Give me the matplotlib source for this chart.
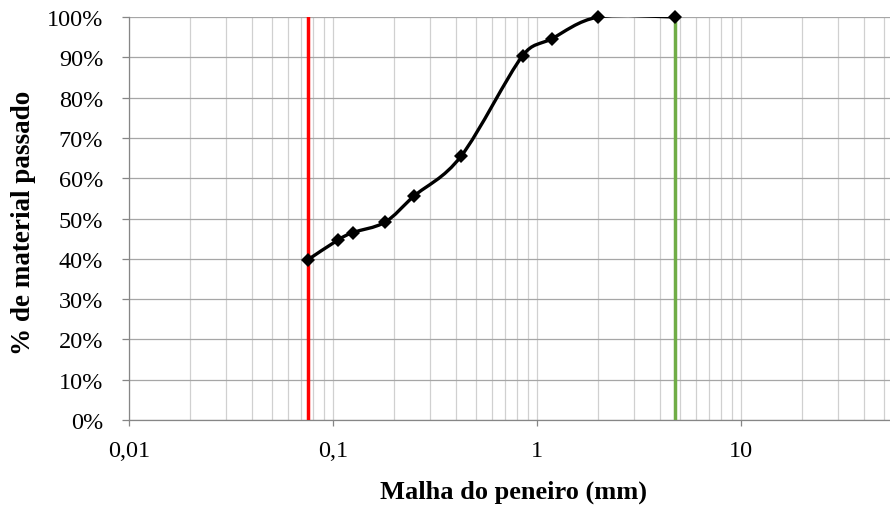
import numpy as np
import matplotlib
matplotlib.use('Agg')
import matplotlib.pyplot as plt
from matplotlib.path import Path
from matplotlib.patches import PathPatch
from matplotlib.ticker import FixedLocator, FixedFormatter, LogLocator, NullFormatter

plt.rcParams['font.family'] = ['Liberation Serif', 'DejaVu Serif']

# curva granulometrica: abertura da peneira (mm) x fracao passante
malha = [0.075, 0.106, 0.125, 0.18, 0.25, 0.425, 0.85, 1.18, 2.0, 4.75]
passado = [0.397, 0.447, 0.465, 0.491, 0.556, 0.655, 0.904, 0.946, 1.0, 1.0]

# limites: peneira #200 (finos) e peneira #4
limite_finos = 0.075
limite_pedregulho = 4.75

x_ticks = [0.01, 0.1, 1, 10]
x_labels = ['0,01', '0,1', '1', '10']
y_ticks = [0.0, 0.1, 0.2, 0.3, 0.4, 0.5, 0.6, 0.7, 0.8, 0.9, 1.0]
y_labels = ['0%', '10%', '20%', '30%', '40%', '50%', '60%', '70%', '80%', '90%', '100%']


def curva_suave(ax, xs, ys):
    # linha suavizada no estilo do Excel: bezier com bracos limitados
    # a metade do segmento, calculada em coordenadas de tela
    pts = ax.transData.transform(np.column_stack([xs, ys]))
    ext = np.vstack([pts[:1], pts, pts[-1:]])
    f = 1 / 6
    verts = [pts[0]]
    codes = [Path.MOVETO]
    for i in range(len(pts) - 1):
        p0, p1, p2, p3 = ext[i], ext[i + 1], ext[i + 2], ext[i + 3]
        d12 = np.hypot(*(p2 - p1))
        d02 = np.hypot(*(p2 - p0))
        d13 = np.hypot(*(p3 - p1))
        f0 = d12 / 2 / d02 if d02 * f >= d12 / 2 and d02 > 0 else f
        f1 = d12 / 2 / d13 if d13 * f >= d12 / 2 and d13 > 0 else f
        verts += [p1 + (p2 - p0) * f0, p2 - (p3 - p1) * f1, p2]
        codes += [Path.CURVE4] * 3
    verts = ax.transData.inverted().transform(np.array(verts))
    return Path(verts, codes)


W, H = 890, 506
fig = plt.figure(figsize=(W / 100, H / 100), dpi=100)
# o eixo vai ate 100 mm, a parte direita fica cortada
ax = fig.add_axes([129 / W, (H - 421) / H, (945 - 129) / W, (421 - 18) / H])

ax.set_xscale('log')
ax.set_xlim(0.01, 100)
ax.set_ylim(0, 1)

ax.xaxis.set_major_locator(FixedLocator(x_ticks))
ax.xaxis.set_major_formatter(FixedFormatter(x_labels))
ax.xaxis.set_minor_locator(LogLocator(base=10, subs=np.arange(2, 10)))
ax.xaxis.set_minor_formatter(NullFormatter())
ax.yaxis.set_major_locator(FixedLocator(y_ticks))
ax.yaxis.set_major_formatter(FixedFormatter(y_labels))

ax.grid(True, which='both', axis='x', color='#D0D0D0', lw=0.9)
ax.grid(True, which='major', axis='y', color='#A6A6A6', lw=0.9)
ax.set_axisbelow(True)

for s in ('top', 'right'):
    ax.spines[s].set_visible(False)
for s in ('left', 'bottom'):
    ax.spines[s].set_color('#868686')
    ax.spines[s].set_linewidth(0.9)

ax.tick_params(axis='both', which='major', labelsize=17.5, color='#868686', width=0.9)
ax.tick_params(axis='y', length=5, pad=13.5)
ax.tick_params(axis='x', which='major', length=4.5, pad=10)
ax.tick_params(axis='x', which='minor', length=0)

ax.axvline(limite_finos, color='#FF0000', lw=2.5, zorder=3)
ax.axvline(limite_pedregulho, color='#70AD47', lw=2.5, zorder=3)

ax.add_patch(PathPatch(curva_suave(ax, malha, passado), fill=False, edgecolor='black',
                       lw=2.4, capstyle='round', zorder=4))
ax.plot(malha, passado, ls='none', marker='D', ms=7.2, color='black',
        mew=0, zorder=5, clip_on=False)

fig.text(514 / W, (H - 499) / H, 'Malha do peneiro (mm)', ha='center', va='baseline',
         fontsize=19, fontweight='bold')
fig.text(24 / W, (H - 223) / H, '% de material passado', ha='center', va='center',
         rotation=90, fontsize=19.5, fontweight='bold')

fig.savefig('out.png', dpi=100)
